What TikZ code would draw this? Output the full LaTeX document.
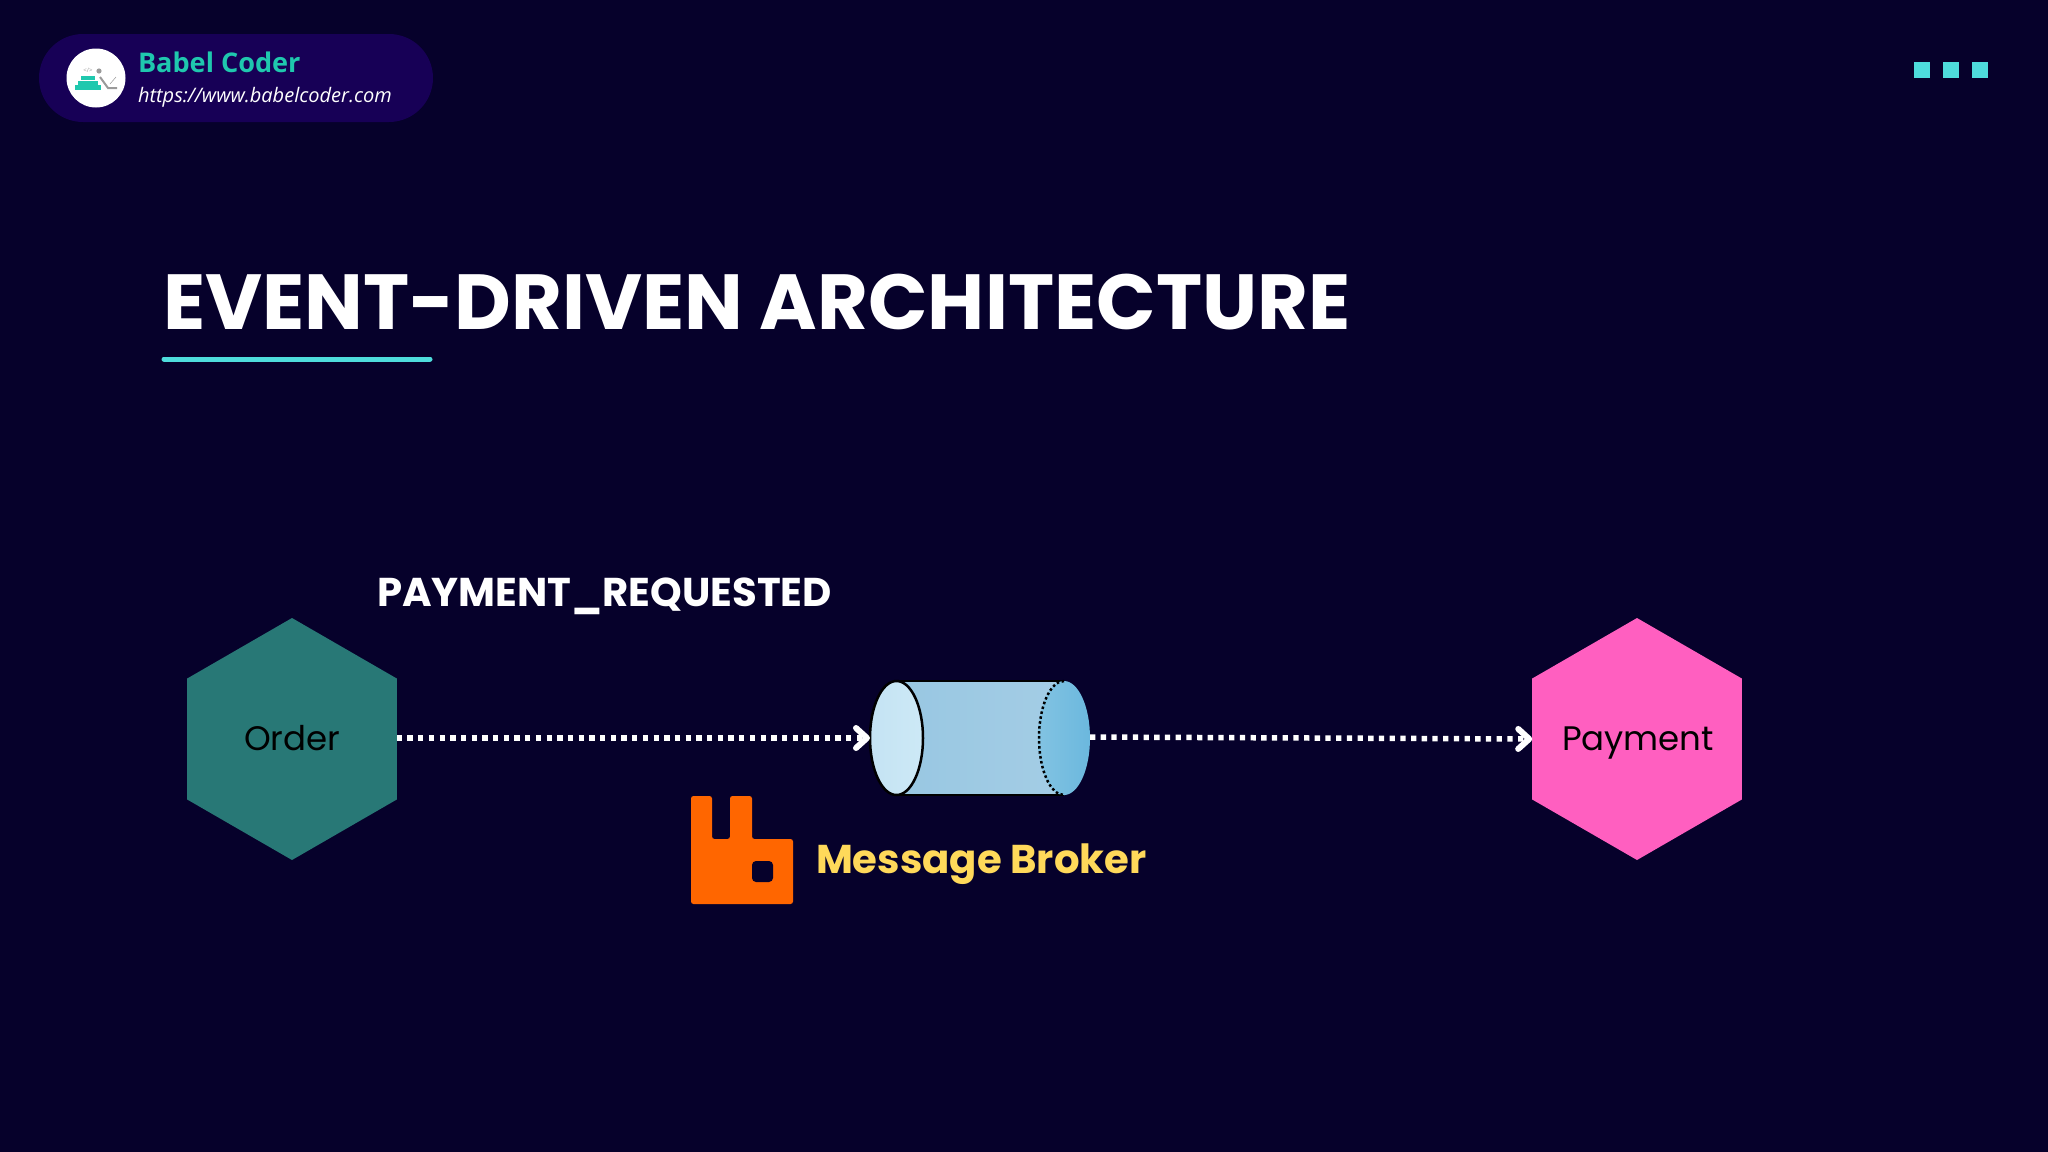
\documentclass[tikz,border=0pt]{standalone}
\usepackage{fontspec}
\setmainfont{Poppins}
\newfontfamily\opensans{Open Sans}
\usetikzlibrary{shapes.geometric,arrows.meta}
\definecolor{bgdark}{HTML}{06012B}
\definecolor{pillblue}{HTML}{170056}
\definecolor{babelteal}{HTML}{1FC8AE}
\definecolor{cyanmark}{HTML}{4EDCDC}
\definecolor{ordergreen}{HTML}{287876}
\definecolor{paypink}{HTML}{FF5FC0}
\definecolor{rabbitorange}{HTML}{FF6600}
\definecolor{brokeryellow}{HTML}{FFD95A}
\definecolor{iconGray}{HTML}{9A9A9A}
\definecolor{tubeA}{HTML}{98C7E2}
\definecolor{tubeB}{HTML}{A4CDE5}
\definecolor{faceA}{HTML}{C4E3F3}
\definecolor{faceB}{HTML}{CDE9F6}
\definecolor{backA}{HTML}{82C3E2}
\definecolor{backB}{HTML}{6BB8DE}
\begin{document}
\begin{tikzpicture}[x=1pt,y=-1pt,
  hexa/.style={regular polygon,regular polygon sides=6,regular polygon rotate=30,minimum size=242pt,inner sep=0pt,outer sep=0pt},
  lbl/.style={anchor=base west,inner sep=0pt,outer sep=0pt},
  dotbox/.style={fill=cyanmark,minimum size=16pt,inner sep=0pt,outer sep=0pt,anchor=north west},
  flow/.style={draw=white,line width=5.5pt,dash pattern=on 5.3pt off 5.4pt,-{Straight Barb[round,length=11pt,width=20pt,line width=6pt]}},
  tubeend/.style={ellipse,minimum height=114pt,inner sep=0pt,outer sep=0pt}]
\def\midy{738};
\def\hexy{739};
\useasboundingbox (0,0) rectangle (2048,1151.6);
\fill[bgdark] (-2,-2) rectangle (2050,1154);
\fill[pillblue,rounded corners=44pt] (39,34) rectangle (433,122);
\node[circle,fill=white,minimum size=59pt,inner sep=0pt] (badge) at (96,78) {};
\fill[babelteal] (75,85) rectangle (101,90);
\fill[babelteal] (78,80.5) rectangle (98,84.5);
\fill[babelteal] (81,76) rectangle (95,80);
\node[inner sep=0pt,text=iconGray,font=\opensans\fontsize{6}{6}\selectfont] (tag) at (88,70) {</>};
\fill[iconGray] (99,71) circle (2.6);
\draw[iconGray,line width=2pt] (100,77) -- (108,88) -- (117,88);
\draw[iconGray,line width=0.5pt] (110,84) -- (116,77);
\node[lbl,text=babelteal,font=\opensans\bfseries\fontsize{27.1}{32}\selectfont] (site) at (138,72) {Babel Coder};
\node[lbl,text=white,font=\opensans\itshape\fontsize{20}{26}\selectfont] (url) at (138,102) {https://www.babelcoder.com};
\node[dotbox] (boxA) at (1914,62) {};
\node[dotbox] (boxB) at (1943,62) {};
\node[dotbox] (boxC) at (1972,62) {};
\node[lbl,text=white,font=\bfseries\fontsize{78.1}{90}\selectfont] (title) at (163,329) {EVENT-DRIVEN ARCHITECTURE};
\draw[cyanmark,line width=5pt,line cap=round] (164,359) -- (430,359);
\node[lbl,text=white,font=\bfseries\fontsize{40.2}{44}\selectfont] (event) at (377,606) {PAYMENT\_REQUESTED};
\node[hexa,fill=ordergreen] (order) at (292,\hexy) {};
\node[lbl,font=\fontsize{34}{40}\selectfont,text=black] (orderlbl) at (244,750) {Order};
\node[hexa,fill=paypink] (payment) at (1637,\hexy) {};
\node[lbl,font=\fontsize{34}{40}\selectfont,text=black] (paylbl) at (1562,750) {Payment};
\fill[left color=tubeA,right color=tubeB] (897,681) rectangle (1064,795);
\draw[black,line width=2.5pt] (897,681) -- (1064,681) (897,795) -- (1064,795);
\node[tubeend,minimum width=52pt,left color=backA,right color=backB] (tubeR) at (1064,\midy) {};
\draw[black,line width=2.5pt,dash pattern=on 2.5pt off 2.5pt] (1064,681) arc (270:90:25 and 57);
\node[tubeend,minimum width=53pt,draw=black,line width=2.5pt,left color=faceA,right color=faceB] (tubeL) at (896.5,\midy) {};
\draw[flow] ([yshift=1pt]order.east) -- (tubeL.west);
\draw[flow] ([yshift=1pt]tubeR.east) -- (payment.west);
\fill[rabbitorange,rounded corners=2.5pt] (691,796) -- (712,796) -- (712,839) -- (730,839) -- (730,796) -- (752,796) -- (752,839) -- (793,839) -- (793,904) -- (691,904) -- cycle;
\fill[bgdark,rounded corners=4pt] (752,861) rectangle (773,882);
\node[lbl,text=brokeryellow,font=\bfseries\fontsize{40.2}{44}\selectfont] (broker) at (816,873) {Message Broker};
\end{tikzpicture}
\end{document}
